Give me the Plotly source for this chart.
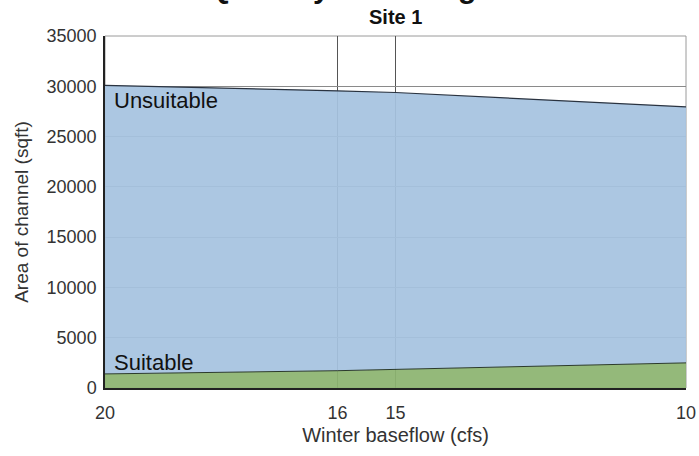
import plotly.graph_objects as go

# Winter baseflow scenarios (cfs) and channel area split by habitat suitability (sqft)
baseflow = [20, 16, 15, 10]
suitable = [1400, 1720, 1850, 2500]
unsuitable = [28700, 27830, 27530, 25460]
x_ticks = [20, 16, 15, 10]
y_ticks = [0, 5000, 10000, 15000, 20000, 25000, 30000, 35000]

fig = go.Figure()
fig.add_trace(go.Scatter(
    x=baseflow, y=suitable, stackgroup="area", mode="lines",
    line=dict(color="#2b3a2b", width=1),
    fillcolor="rgba(140,180,112,0.93)", name="Suitable",
))
fig.add_trace(go.Scatter(
    x=baseflow, y=unsuitable, stackgroup="area", mode="lines",
    line=dict(color="#2a3340", width=1.2),
    fillcolor="rgba(166,195,224,0.93)", name="Unsuitable",
))

fig.add_annotation(x=20, y=28600, xref="x", yref="y", text="Unsuitable",
                   showarrow=False, xanchor="left", yanchor="middle",
                   xshift=7, font=dict(size=22, color="#111"))
fig.add_annotation(x=20, y=2500, xref="x", yref="y", text="Suitable",
                   showarrow=False, xanchor="left", yanchor="middle",
                   xshift=7, font=dict(size=22, color="#111"))

# Chart heading (runs past the top edge) and panel label
fig.add_annotation(x=0.5, y=1 + 30 / 352, xref="paper", yref="paper",
                   text="<b>Quantity of rearing habitat</b>", showarrow=False,
                   xanchor="center", yanchor="bottom",
                   font=dict(size=30, color="#111", family="Liberation Sans, Arial"))
fig.add_annotation(x=0.5, y=1, xref="paper", yref="paper", text="<b>Site 1</b>",
                   showarrow=False, xanchor="center", yanchor="bottom", yshift=6,
                   font=dict(size=20, color="#111"))

# Plot frame
fig.add_shape(type="rect", xref="paper", yref="paper", x0=0, x1=1, y0=0, y1=1,
              line=dict(color="#9a9a9a", width=1), layer="below")

fig.update_layout(
    width=699, height=456,
    margin=dict(l=105, r=13, t=36, b=68),
    paper_bgcolor="white", plot_bgcolor="white",
    showlegend=False,
    font=dict(family="Liberation Sans, Arial", color="#333"),
    xaxis=dict(
        range=[20, 10], tickvals=x_ticks, ticktext=[str(v) for v in x_ticks],
        showgrid=True, gridcolor="#555", gridwidth=1,
        showline=True, linecolor="#222", linewidth=1.5,
        ticks="", tickfont=dict(size=18, color="#333"), ticklabelstandoff=8,
        title=dict(text="Winter baseflow (cfs)", font=dict(size=20, color="#333"), standoff=6),
        zeroline=False, automargin=False,
    ),
    yaxis=dict(
        range=[0, 35000], tickvals=y_ticks, ticktext=[str(v) for v in y_ticks],
        showgrid=True, gridcolor="#8a8a8a", gridwidth=1,
        showline=True, linecolor="#222", linewidth=1.5,
        ticks="", tickfont=dict(size=18, color="#333"), ticklabelstandoff=3,
        title=dict(text="Area of channel (sqft)", font=dict(size=19, color="#333"), standoff=13),
        zeroline=False, automargin=False,
    ),
)

fig.write_html("out.html")
